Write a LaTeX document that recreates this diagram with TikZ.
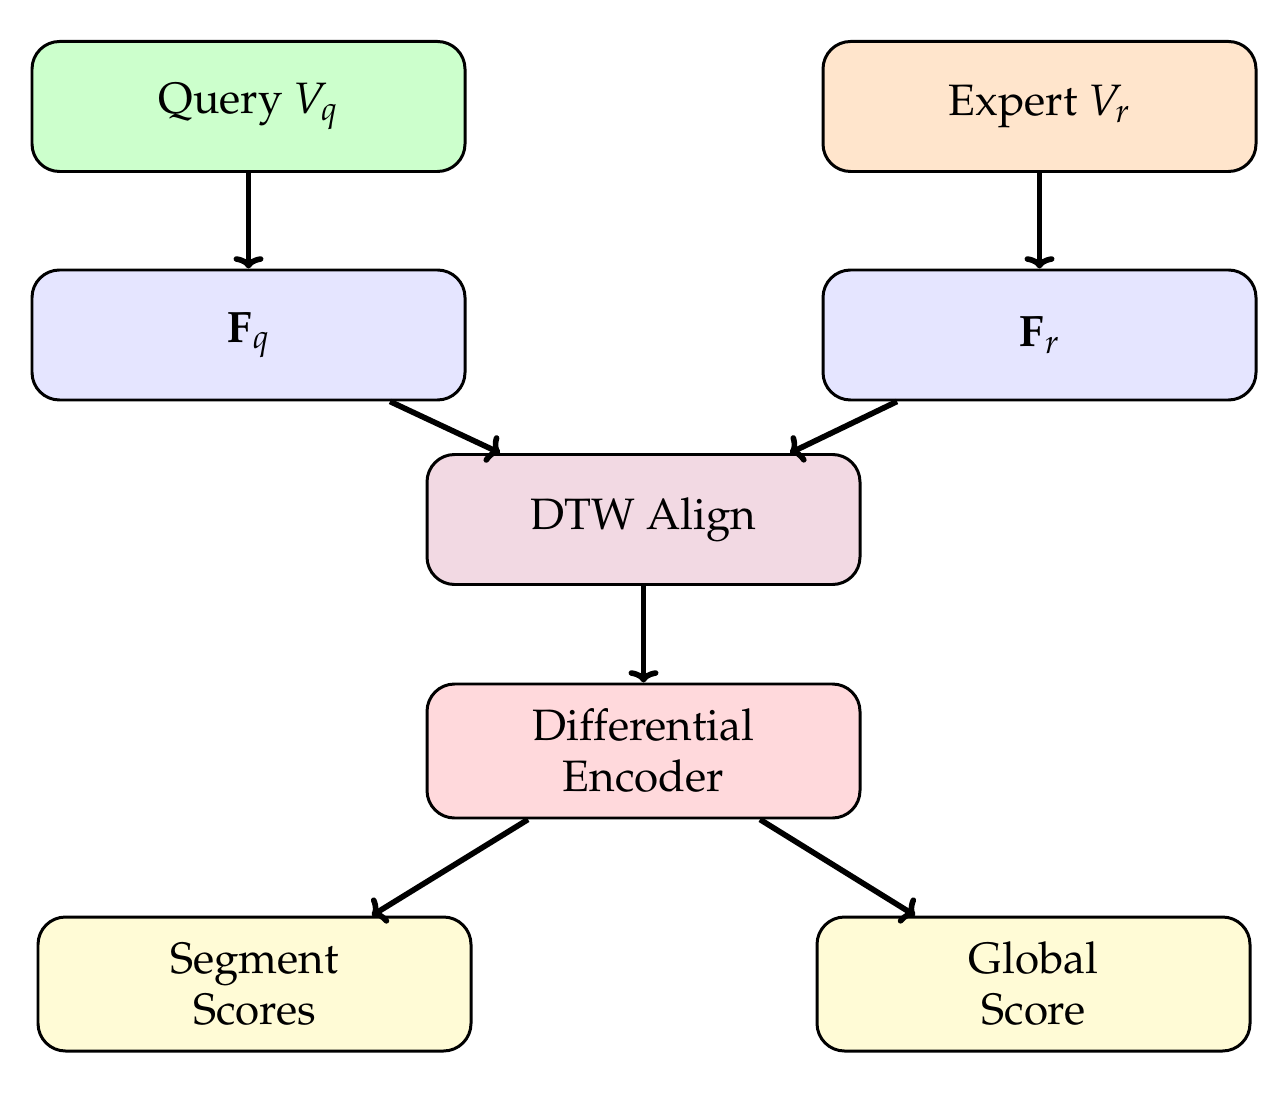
\documentclass[tikz,border=0pt]{standalone}
\usepackage[T1]{fontenc}
\usepackage{mathpazo}
\usetikzlibrary{arrows.meta,calc}
\definecolor{qgreen}{HTML}{CCFFCC}
\definecolor{eorange}{HTML}{FFE5CC}
\definecolor{fblue}{HTML}{E5E5FF}
\definecolor{dpink}{HTML}{F2D9E3}
\definecolor{erose}{HTML}{FFD9DC}
\definecolor{syellow}{HTML}{FFFBD6}
\tikzset{
  box/.style={draw,line width=1.7pt,rounded corners=0.55cm,minimum width=8.66cm,minimum height=2.6cm,align=center,font=\fontsize{25}{29}\selectfont},
  flow/.style={line width=3.2pt,-{To[length=7pt,width=17pt]}}
}
\begin{document}
\begin{tikzpicture}
\useasboundingbox (0,0) rectangle (25.76,21.9);
\node[box,fill=qgreen] (query) at (4.97,19.77) {Query $V_q$};
\node[box,fill=eorange] (expert) at (20.79,19.77) {Expert $V_r$};
\node[box,fill=fblue] (fq) at (4.97,15.2) {$\mathbf{F}_q$};
\node[box,fill=fblue] (fr) at (20.79,15.2) {$\mathbf{F}_r$};
\node[box,fill=dpink] (dtw) at (12.87,11.51) {DTW Align};
\node[box,fill=erose,minimum height=2.68cm] (diff) at (12.87,6.88) {Differential\\Encoder};
\node[box,fill=syellow,minimum height=2.68cm] (seg) at (5.09,2.22) {Segment\\Scores};
\node[box,fill=syellow,minimum height=2.68cm] (glob) at (20.67,2.22) {Global\\Score};
% connectors
\draw[flow] (query) -- (fq);
\draw[flow] (expert) -- (fr);
\draw[flow] ([xshift=2.83cm]fq.south) -- ([xshift=-2.87cm]dtw.north);
\draw[flow] ([xshift=-2.85cm]fr.south) -- ([xshift=2.93cm]dtw.north);
\draw[flow] (dtw) -- (diff);
\draw[flow] ([xshift=-2.31cm]diff.south) -- ([xshift=2.35cm]seg.north);
\draw[flow] ([xshift=2.33cm]diff.south) -- ([xshift=-2.37cm]glob.north);
\end{tikzpicture}
\end{document}
